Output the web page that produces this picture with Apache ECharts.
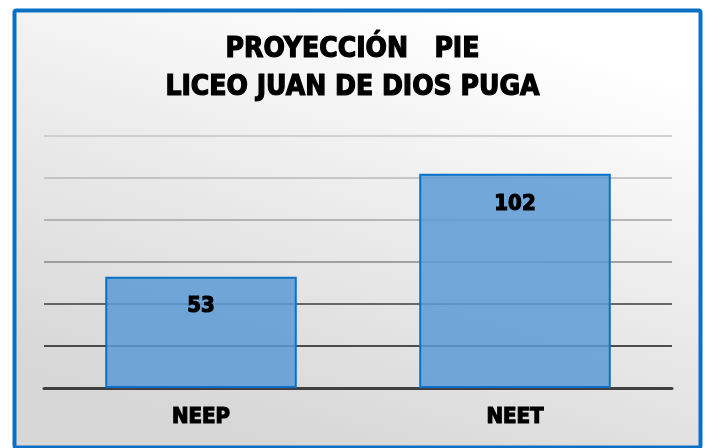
<!DOCTYPE html>
<html>
<head>
<meta charset="utf-8">
<script src="https://cdn.jsdelivr.net/npm/echarts@6/dist/echarts.min.js"></script>
<style>
  html, body { margin: 0; padding: 0; background: #fff; }
  #chart { width: 705px; height: 448px; }
</style>
</head>
<body>
<div id="chart"></div>
<script>
  // datos del gráfico
  var categories = ['NEEP', 'NEET'];
  var values = [53, 102];
  var titleLines = ['PROYECCIÓN   PIE', 'LICEO JUAN DE DIOS PUGA'];

  var font = '"DejaVu Sans Condensed", "DejaVu Sans", sans-serif';
  var chart = echarts.init(document.getElementById('chart'));

  // texto negro y grueso (borde del mismo color para engrosar)
  var heavy = function (size) {
    return {
      fontFamily: font,
      fontWeight: 'bold',
      fontSize: size,
      color: '#000',
      textBorderColor: '#000',
      textBorderWidth: 1.2
    };
  };

  var option = {
    backgroundColor: '#fff',
    graphic: [{
      type: 'rect',
      z: -10,
      silent: true,
      shape: { x: 14.5, y: 10.5, width: 686, height: 437, r: 2 },
      style: {
        fill: {
          type: 'linear', x: 0.62, y: 0, x2: 0.42, y2: 1,
          colorStops: [
            { offset: 0, color: '#ffffff' },
            { offset: 0.45, color: '#ececec' },
            { offset: 1, color: '#d7d7d7' }
          ]
        },
        stroke: '#0a70c4',
        lineWidth: 4
      }
    }],
    title: {
      text: titleLines.join('\n'),
      left: 'center',
      top: 31,
      padding: 0,
      textStyle: Object.assign(heavy(28), { lineHeight: 38 })
    },
    grid: { left: 44, right: 33, top: 136, bottom: 60 },
    xAxis: {
      type: 'category',
      data: categories,
      axisLine: { lineStyle: { color: '#404040', width: 3 } },
      axisTick: { show: false },
      axisLabel: Object.assign(heavy(22), { margin: 18 })
    },
    yAxis: {
      type: 'value',
      min: 0,
      max: 120,
      interval: 20,
      axisLabel: { show: false },
      axisLine: { show: false },
      axisTick: { show: false },
      splitLine: {
        lineStyle: {
          width: 1.5,
          color: ['#404040', '#1a1a1a', '#3c3c3c', '#888888', '#a3a3a3', '#b8b8b8', '#c6c6c6']
        }
      }
    },
    series: [{
      type: 'bar',
      data: values,
      barWidth: '61%',
      itemStyle: {
        color: 'rgba(91,155,213,0.85)',
        borderColor: '#0a70c8',
        borderWidth: 2
      },
      label: Object.assign(heavy(22), {
        show: true,
        position: 'insideTop',
        distance: 19
      })
    }]
  };

  chart.setOption(option);
</script>
</body>
</html>
